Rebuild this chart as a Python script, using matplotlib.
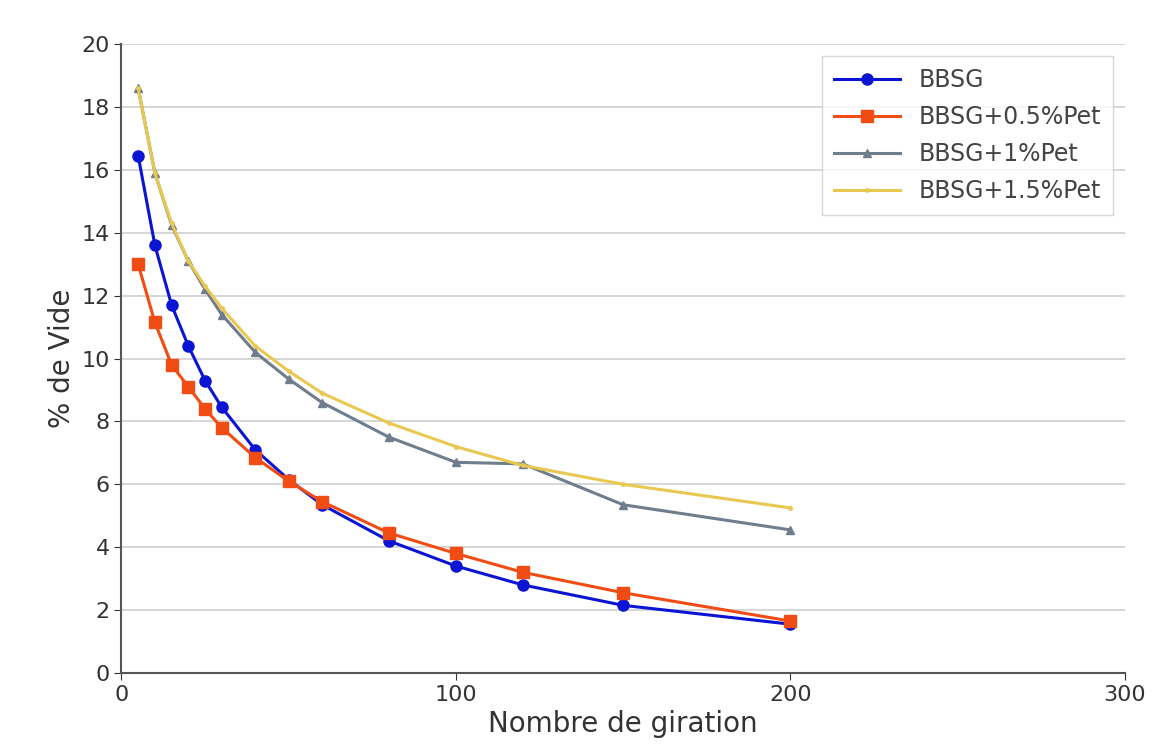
import matplotlib.pyplot as plt

# gyration counts and void content (%) per mix
giration = [5, 10, 15, 20, 25, 30, 40, 50, 60, 80, 100, 120, 150, 200]
bbsg = [16.45, 13.6, 11.7, 10.4, 9.3, 8.45, 7.1, 6.15, 5.35, 4.2, 3.4, 2.8, 2.15, 1.55]
bbsg_05 = [13.0, 11.15, 9.8, 9.1, 8.4, 7.8, 6.85, 6.1, 5.45, 4.45, 3.8, 3.2, 2.55, 1.65]
bbsg_1 = [18.6, 15.9, 14.25, 13.1, 12.2, 11.4, 10.2, 9.35, 8.6, 7.5, 6.7, 6.65, 5.35, 4.55]
bbsg_15 = [18.6, 15.9, 14.3, 13.1, 12.3, 11.6, 10.4, 9.6, 8.9, 7.95, 7.2, 6.6, 6.0, 5.25]

fig = plt.figure(figsize=(11.68, 7.51), dpi=100)
ax = fig.add_axes([0.104, 0.104, 0.859, 0.837])

ax.plot(giration, bbsg, color='#0a14d2', marker='o', markersize=8, lw=2.2, label='BBSG')
ax.plot(giration, bbsg_05, color='#f04c14', marker='s', markersize=8, lw=2.2, label='BBSG+0.5%Pet')
ax.plot(giration, bbsg_1, color='#6f7d8c', marker='^', markersize=6, lw=2.2, label='BBSG+1%Pet')
ax.plot(giration, bbsg_15, color='#e8c850', marker='.', markersize=5, lw=2.2, label='BBSG+1.5%Pet')

ax.set_xlim(0, 300)
ax.set_ylim(0, 20)
ax.set_xticks([0, 100, 200, 300])
ax.set_yticks(range(0, 21, 2))
ax.tick_params(labelsize=16, colors='#333333', length=5)
ax.yaxis.grid(True, color='#d0d0d0', lw=1.2)
ax.set_axisbelow(True)
for s in ['top', 'right']:
    ax.spines[s].set_visible(False)
for s in ['left', 'bottom']:
    ax.spines[s].set_color('#555555')
    ax.spines[s].set_linewidth(1.5)

ax.set_xlabel('Nombre de giration', fontsize=20, color='#333333')
ax.set_ylabel('% de Vide', fontsize=20, color='#333333')
ax.legend(loc='upper right', fontsize=17, frameon=True, fancybox=False,
          edgecolor='#cccccc', borderpad=0.5, labelspacing=0.55,
          handlelength=2.8, labelcolor='#444444')

fig.savefig('out.png')
